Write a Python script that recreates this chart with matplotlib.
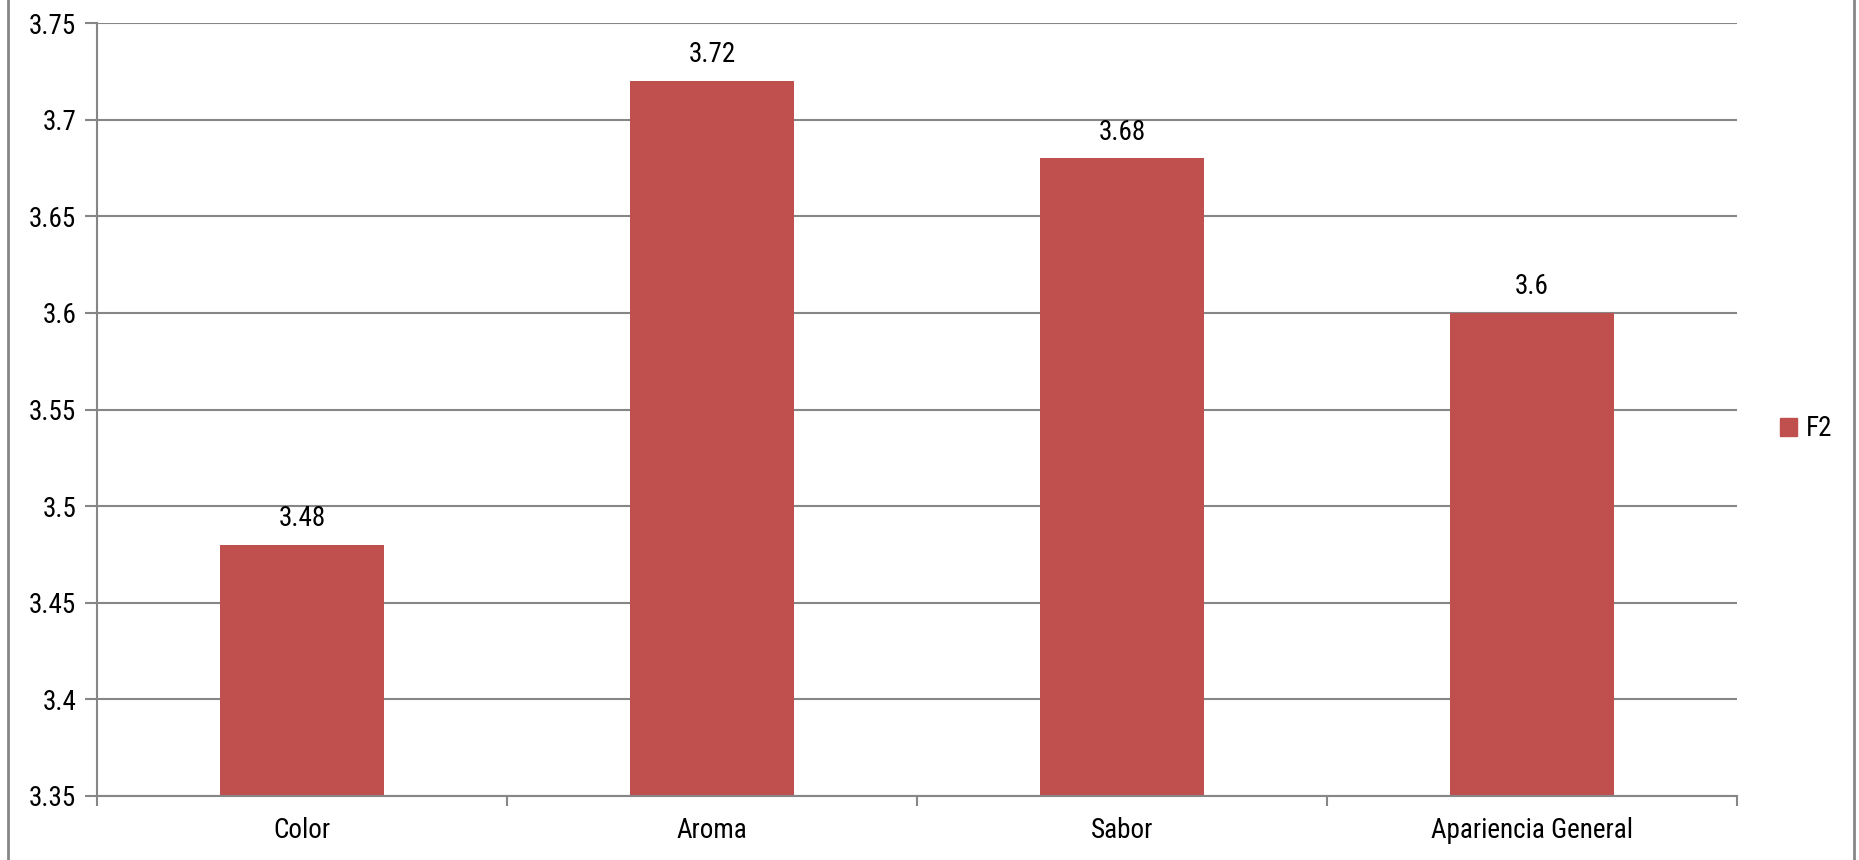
import matplotlib
matplotlib.use("Agg")
import matplotlib.pyplot as plt
from matplotlib.patches import Rectangle
from matplotlib import font_manager

categories = ["Color", "Aroma", "Sabor", "Apariencia General"]
values = [3.48, 3.72, 3.68, 3.60]
labels = ["3.48", "3.72", "3.68", "3.6"]
series_name = "F2"
yticks = [3.35, 3.4, 3.45, 3.5, 3.55, 3.6, 3.65, 3.7, 3.75]
ytick_labels = ["3.35", "3.4", "3.45", "3.5", "3.55", "3.6", "3.65", "3.7", "3.75"]

names = {f.name for f in font_manager.fontManager.ttflist}
fam = "Liberation Sans Narrow" if "Liberation Sans Narrow" in names else "Roboto Condensed" if "Roboto Condensed" in names else "Liberation Sans"
plt.rcParams['font.family'] = [fam, 'DejaVu Sans']
FS = 19.5

W, H = 1859, 860
fig = plt.figure(figsize=(W/100, H/100), dpi=100)
ax = fig.add_axes([97/W, 1 - 796/H, (1737-97)/W, (796-23)/H])

bar_color = "#C0504D"
grid_color = "#868686"
x = list(range(len(categories)))
ax.bar(x, values, width=0.4, color=bar_color, zorder=3, bottom=0)
ax.set_ylim(3.35, 3.75)
ax.set_xlim(-0.5, len(categories) - 0.5)
ax.set_yticks(yticks)
ax.set_yticklabels(ytick_labels, fontsize=FS)
ax.set_xticks(x)
ax.set_xticklabels(categories, fontsize=FS)
ax.tick_params(axis='x', length=0, pad=15)
ax.tick_params(axis='y', length=9, width=1.5, color=grid_color, pad=6)
ax.set_xticks([i - 0.5 for i in range(len(categories) + 1)], minor=True)
ax.tick_params(axis='x', which='minor', length=7, width=1.5, color=grid_color)
for y in yticks:
    ax.axhline(y, color=grid_color, lw=1.5, zorder=1)
for s in ["top", "right"]:
    ax.spines[s].set_visible(False)
for s in ["left", "bottom"]:
    ax.spines[s].set_color(grid_color)
    ax.spines[s].set_linewidth(1.5)
    ax.spines[s].set_zorder(4)

for xi, v, lab in zip(x, values, labels):
    ax.annotate(lab, (xi, v), xytext=(0, 9), textcoords="offset points",
                ha="center", va="bottom", fontsize=FS)

leg = ax.legend([Rectangle((0, 0), 1, 1, color=bar_color)], [series_name],
                loc="center left", bbox_to_anchor=(1756/W, 1 - 429/H),
                bbox_transform=fig.transFigure, frameon=False, fontsize=FS,
                handlelength=0.6, handleheight=0.6, handletextpad=0.35)

fig.add_artist(Rectangle((8/W, -0.01), (1854-8)/W, 1.02, transform=fig.transFigure,
                         fill=False, edgecolor=grid_color, lw=2))

fig.savefig("out.png", dpi=100)
